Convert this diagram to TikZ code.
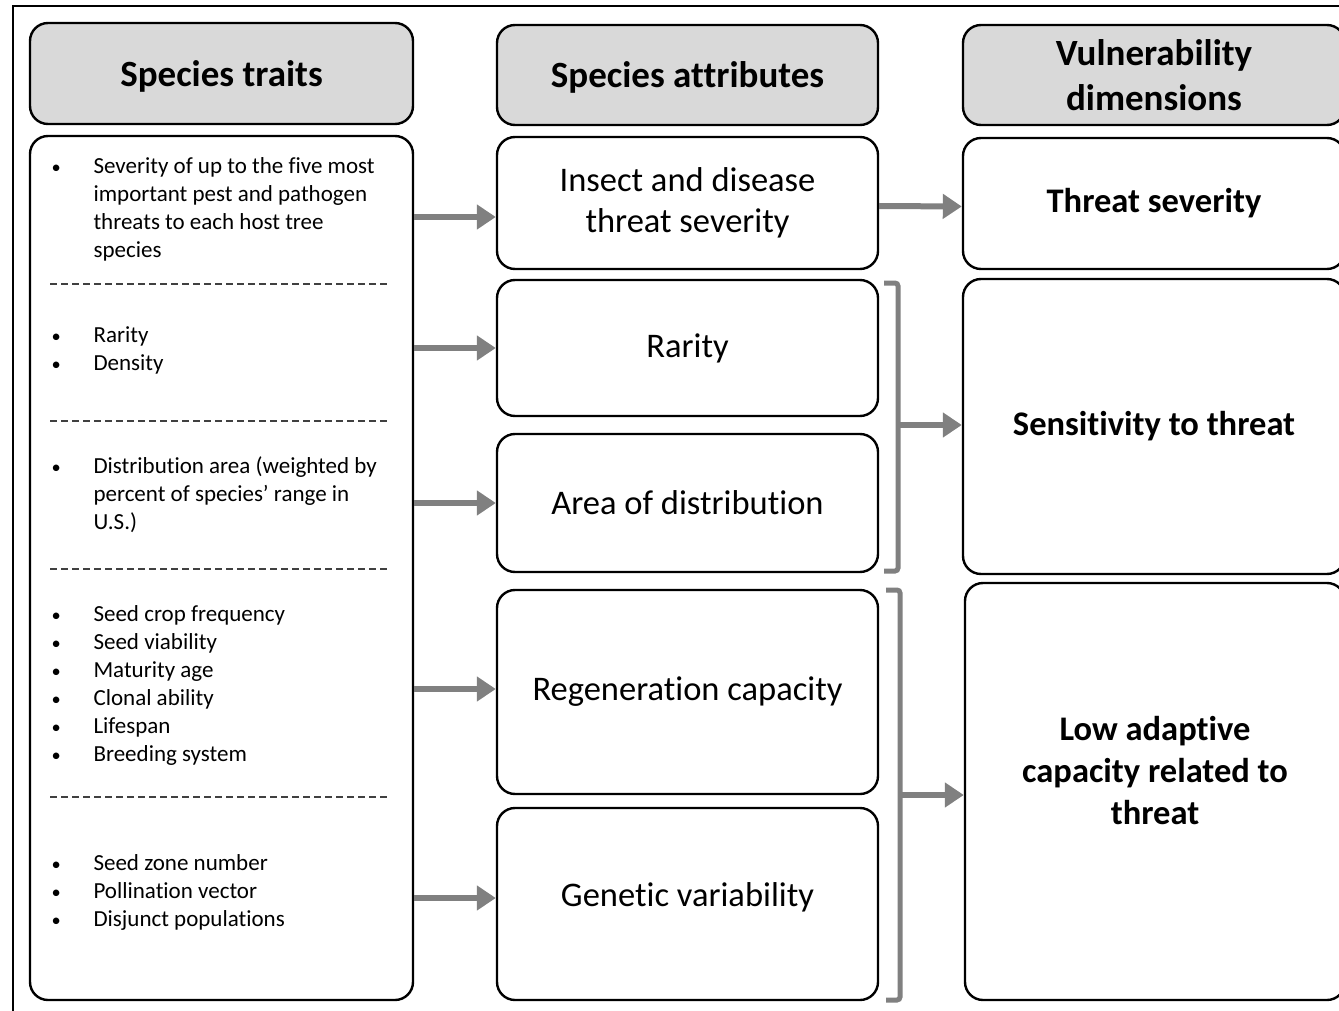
\documentclass[tikz,border=0pt]{standalone}
\usepackage{fontspec}
\setmainfont{Carlito}[Ligatures=NoCommon]
\usetikzlibrary{arrows.meta,positioning}

\definecolor{headgray}{HTML}{D9D9D9}
\definecolor{arrowgray}{HTML}{808080}

\tikzset{
  box/.style={draw, line width=2.4pt, rounded corners=18pt, align=center},
  headbox/.style={box, fill=headgray, font=\fontsize{37}{45}\selectfont\bfseries},
  attrbox/.style={box, minimum width=381pt, font=\fontsize{34.5}{41}\selectfont},
  dimbox/.style={box, minimum width=382pt, font=\fontsize{34.5}{42}\selectfont\bfseries},
  traitlist/.style={anchor=west, align=left, font=\fontsize{23}{28}\selectfont},
  sep/.style={draw=black!75, line width=1.4pt, dash pattern=on 7pt off 4pt},
  garrow/.style={draw=arrowgray, line width=6pt, -{Triangle[length=19pt,width=24pt]}},
  bracket/.style={draw=arrowgray, line width=5pt, rounded corners=3pt},
}

\newcommand{\bul}{\scalebox{0.8}{\textbullet}}

\begin{document}
\begin{tikzpicture}[x=1pt, y=-1pt]
  \useasboundingbox (0,0) rectangle (1339,1011);

  % outer frame
  \draw[line width=2.4pt] (13,1030) -- (13,6) -- (1370,6);

  % Column headers
  \node[headbox, text depth=0pt, minimum width=383pt, minimum height=101pt] (hTraits) at (221.5,73.5) {Species traits};
  \node[headbox, text depth=0pt, minimum width=381pt, minimum height=100pt] (hAttr)   at (687.5,75)   {Species attributes};
  \node[headbox, minimum width=382pt, minimum height=100pt] (hDim)    at (1154,75)    {Vulnerability\\dimensions};

  % Species traits
  \node[box, minimum width=383pt, minimum height=864pt] (traits) at (221.5,568) {};

  \node[traitlist] (t1) at (48,210) {\begin{tabular}{@{}p{42pt}@{}l@{}}
    \bul & Severity of up to the five most\\
         & important pest and pathogen\\
         & threats to each host tree\\
         & species
  \end{tabular}};
  \node[traitlist] (t2) at (48,351) {\begin{tabular}{@{}p{42pt}@{}l@{}}
    \bul & Rarity\\
    \bul & Density
  \end{tabular}};
  \node[traitlist] (t3) at (48,496) {\begin{tabular}{@{}p{42pt}@{}l@{}}
    \bul & Distribution area (weighted by\\
         & percent of species' range in\\
         & U.S.)
  \end{tabular}};
  \node[traitlist] (t4) at (48,685.5) {\begin{tabular}{@{}p{42pt}@{}l@{}}
    \bul & Seed crop frequency\\
    \bul & Seed viability\\
    \bul & Maturity age\\
    \bul & Clonal ability\\
    \bul & Lifespan\\
    \bul & Breeding system
  \end{tabular}};
  \node[traitlist] (t5) at (48,893) {\begin{tabular}{@{}p{42pt}@{}l@{}}
    \bul & Seed zone number\\
    \bul & Pollination vector\\
    \bul & Disjunct populations
  \end{tabular}};

  \foreach \y in {284,421,569,797}
    \draw[sep] (50,\y) -- (390,\y);

  % Species attributes
  \node[attrbox, minimum height=132pt] (ins)   at (687.5,203) {Insect and disease\\threat severity};
  \node[attrbox, minimum height=136pt] (rar)   at (687.5,348) {Rarity};
  \node[attrbox, minimum height=138pt] (area)  at (687.5,503) {Area of distribution};
  \node[attrbox, minimum height=204pt] (regen) at (687.5,692) {Regeneration capacity};
  \node[attrbox, minimum height=192pt] (gen)   at (687.5,904) {};
  \node[font=\fontsize{34.5}{41}\selectfont] (gentxt) at ([yshift=7pt]gen.center) {Genetic variability};

  % Vulnerability dimensions
  \node[dimbox, minimum height=131pt] (thr)  at (1154,203.5) {Threat severity};
  \node[dimbox, minimum height=295pt] (sens) at (1154,426.5) {Sensitivity to threat};
  \node[dimbox, minimum height=417pt, minimum width=380pt] (low) at (1155,791.5) {};
  \node[font=\fontsize{34.5}{42}\selectfont\bfseries, align=center] (lowtxt)
    at ([yshift=21pt]low.center) {Low adaptive\\capacity related to\\threat};

  % traits -> attributes
  \draw[garrow] ([yshift=-14pt]traits.east |- ins.west) -- ([yshift=-14pt]ins.west);
  \draw[garrow] (traits.east |- rar.west) -- (rar.west);
  \draw[garrow] (traits.east |- area.west) -- (area.west);
  \draw[garrow] ([yshift=3pt]traits.east |- regen.west) -- ([yshift=3pt]regen.west);
  \draw[garrow] ([yshift=6pt]traits.east |- gen.west) -- ([yshift=6pt]gen.west);

  % attributes -> dimensions
  \draw[garrow] ([yshift=-3pt]ins.east) -- ([yshift=-3pt]thr.west);

  \coordinate (b1) at (898,425);
  \draw[bracket] (884,283) -| (b1) |- (884,571);
  \draw[garrow] (b1) -- (sens.west |- b1);

  \coordinate (b2) at (900,795);
  \draw[bracket] (886,590) -| (b2) |- (886,1000);
  \draw[garrow] (b2) -- (low.west |- b2);
\end{tikzpicture}
\end{document}
